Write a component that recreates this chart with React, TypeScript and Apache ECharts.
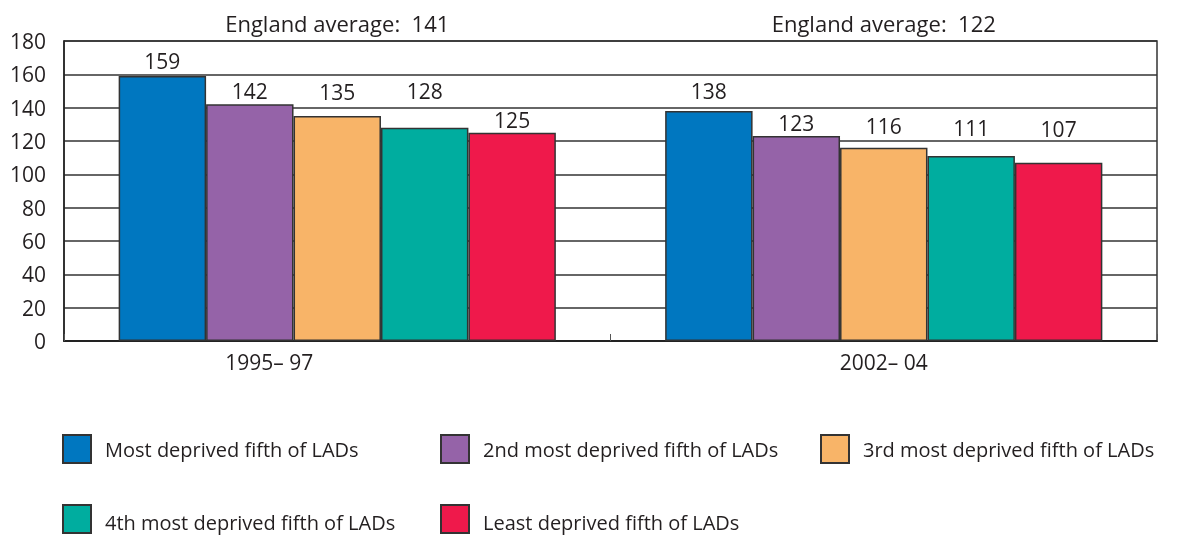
import React, { useEffect, useRef } from "react";
import * as echarts from "echarts";

const categories = ["1995– 97", "2002– 04"];
const seriesNames = [
  "Most deprived fifth of LADs",
  "2nd most deprived fifth of LADs",
  "3rd most deprived fifth of LADs",
  "4th most deprived fifth of LADs",
  "Least deprived fifth of LADs",
];
const values1995 = [159, 142, 135, 128, 125];
const values2002 = [138, 123, 116, 111, 107];
const englandAverages = [141, 122];
const yTicks = { min: 0, max: 180, interval: 20 };

// styling
const colors = ["#0077C0", "#9563A8", "#F8B468", "#00AD9F", "#EF194B"];
const labelDist = [
  [5, 10],
  [3, 3],
  [14, 11],
  [26, 18],
  [2, 23],
];
const legendSlots = [
  { left: 57, top: 429, shift: 0 },
  { left: 435, top: 429, shift: 0 },
  { left: 815, top: 429, shift: 0 },
  { left: 57, top: 499, shift: 6 },
  { left: 435, top: 499, shift: 6 },
];
const FONT = "Open Sans";
const TXT = "#231f20";
const FS = 21;

export default function App() {
  const ref = useRef<HTMLDivElement>(null);
  useEffect(() => {
    if (!ref.current) return;
    const chart = echarts.init(ref.current, undefined, { renderer: "svg" });
    const series = seriesNames.map((name, s) => ({
      name,
      type: "bar",
      barGap: "0%",
      barCategoryGap: "20%",
      itemStyle: { color: colors[s], borderColor: "#333", borderWidth: 1.5 },
      label: {
        show: true,
        position: "top",
        fontSize: FS,
        fontFamily: FONT,
        color: TXT,
      },
      data: [values1995[s], values2002[s]].map((v, c) => ({
        value: v,
        label: { distance: labelDist[s][c] },
      })),
    }));
    const legends = seriesNames.map((n, i) => ({
      left: legendSlots[i].left,
      top: legendSlots[i].top,
      itemWidth: 28,
      itemHeight: 28,
      icon: "rect",
      orient: "horizontal",
      selectedMode: false,
      data: [n],
      formatter: (nm: string) => `{t|${nm}}`,
      textStyle: {
        fontSize: 20,
        fontFamily: FONT,
        color: TXT,
        rich: {
          t: {
            fontSize: 20,
            lineHeight: 20,
            fontFamily: FONT,
            color: TXT,
            padding: [legendSlots[i].shift, 0, 0, 9],
          },
        },
      },
    }));
    chart.setOption({
      animation: false,
      textStyle: { fontFamily: FONT },
      grid: {
        left: 64,
        right: 20,
        top: 41,
        bottom: 196,
        show: true,
        borderColor: "#333",
        borderWidth: 1.5,
        containLabel: false,
      },
      xAxis: {
        type: "category",
        data: categories,
        axisLine: { lineStyle: { color: "#222", width: 2 } },
        axisTick: {
          show: true,
          inside: true,
          length: 7,
          lineStyle: { color: "#555", width: 1 },
        },
        axisLabel: {
          fontSize: FS,
          fontFamily: FONT,
          color: TXT,
          margin: 10,
          formatter: (v: string, i: number) => (i === 0 ? `{a|${v}}` : `{b|${v}}`),
          rich: {
            a: { fontSize: FS, fontFamily: FONT, color: TXT, padding: [0, 136, 0, 0] },
            b: { fontSize: FS, fontFamily: FONT, color: TXT },
          },
        },
      },
      yAxis: {
        type: "value",
        min: yTicks.min,
        max: yTicks.max,
        interval: yTicks.interval,
        axisLine: { show: true, lineStyle: { color: "#222", width: 1.5 } },
        axisTick: { show: false },
        splitLine: { lineStyle: { color: "#333", width: 1.5 } },
        axisLabel: { fontSize: FS, fontFamily: FONT, color: TXT, margin: 18 },
      },
      legend: legends,
      series,
    });
    const graphics = categories.map((c, i) => {
      const x = chart.convertToPixel({ xAxisIndex: 0 }, c) as number;
      return {
        type: "text",
        x,
        y: 23,
        style: {
          text: `England average:  ${englandAverages[i]}`,
          fontSize: 22,
          fontFamily: FONT,
          fill: TXT,
          align: "center",
          verticalAlign: "middle",
        },
      };
    });
    chart.setOption({ graphic: graphics });
    return () => chart.dispose();
  }, []);
  return (
    <div
      ref={ref}
      style={{ position: "fixed", left: 0, top: 0, width: 1177, height: 537 }}
    />
  );
}
